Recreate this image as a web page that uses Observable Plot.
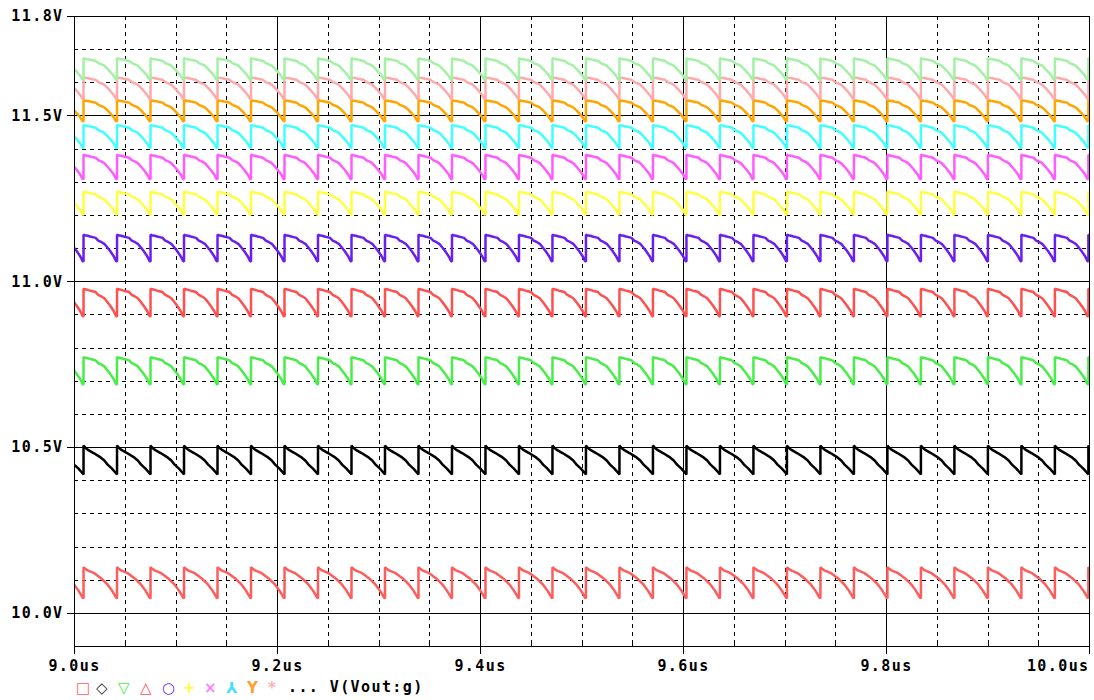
<!DOCTYPE html>
<html>
<head>
<meta charset="utf-8">
<script src="https://cdn.jsdelivr.net/npm/d3@7"></script>
<script src="https://cdn.jsdelivr.net/npm/@observablehq/plot@0.6"></script>
<style>
  html, body { margin: 0; padding: 0; background: #fff; }
  #chart svg text { letter-spacing: 1.4px; }
  #legend text { letter-spacing: 1.4px; }
</style>
</head>
<body>
<div id="chart"></div>
<div id="legend"></div>
<script>
// ---- data ----
const traceNames = ["t1","t2","t3","t4","t5","t6","t7","t8","t9","t10","t11"];
const traceColors = ["#ff5c5c","#000000","#48ee48","#ff5050","#6a1ff0","#ffff40","#ff5cff","#40ffff","#ffa500","#ffaaaa","#a4f0a4"];
const traceHigh = [10.139, 10.506, 10.773, 10.979, 11.142, 11.272, 11.383, 11.473, 11.548, 11.617, 11.674];
const traceLow  = [10.045, 10.419, 10.690, 10.895, 11.061, 11.202, 11.309, 11.403, 11.483, 11.550, 11.608];
const traceShape = [1, 2, 0, 0, 0, 0, 0, 0, 0, 0, 0];

// times (us) at which every trace jumps back up
const jumpTimes = [8.9759, 9.0089, 9.0419, 9.0749, 9.1079, 9.1409, 9.1739, 9.2069, 9.2399, 9.2729,
  9.3059, 9.3389, 9.3719, 9.4049, 9.4379, 9.4709, 9.5039, 9.5369, 9.5699, 9.6029, 9.6359,
  9.6689, 9.7019, 9.7349, 9.7679, 9.8009, 9.8339, 9.8669, 9.8999, 9.9329, 9.9659, 9.9989, 10.0319];

// one cycle's shape: [phase in cycle, fraction of drop from high to low]
const shapeUpper = [[0,0],[0.04,0.02],[0.12,0.04],[0.2,0.07],[0.3,0.1],[0.36,0.12],[0.44,0.22],[0.54,0.28],[0.62,0.34],[0.7,0.46],[0.8,0.62],[0.9,0.8],[0.97,0.98],[1,1]];
const shapeBottom = [[0,0],[0.04,0.04],[0.12,0.1],[0.3,0.18],[0.45,0.3],[0.55,0.38],[0.72,0.56],[0.85,0.75],[0.97,0.97],[1,1]];
const shapeBlack = [[0,0],[0.04,0.06],[0.12,0.14],[0.3,0.26],[0.52,0.42],[0.62,0.52],[0.72,0.66],[0.85,0.8],[0.97,0.96],[1,1]];
const shapes = [shapeUpper, shapeBottom, shapeBlack];

const xMajor = [9.0, 9.2, 9.4, 9.6, 9.8];
const xLast = [10.0];
const xMinor = [9.05,9.1,9.15,9.25,9.3,9.35,9.45,9.5,9.55,9.65,9.7,9.75,9.85,9.9,9.95];
const yLabeled = [11.8, 11.5, 11.0, 10.5, 10.0];
const ySolid = [11.5, 11.0, 10.5, 10.0];
const yDashed = [11.7,11.6,11.4,11.3,11.2,11.1,10.9,10.8,10.7,10.6,10.4,10.3,10.2,10.1];

const legendSymbols = ["□","◇","▽","△","○","+","×","⅄","Y","*"];
const legendColors = ["#ff5c5c","#333333","#40f040","#ff5050","#6a1ff0","#ffff40","#ff80ff","#40e0ff","#ffa030","#ffb0b0"];
const legendText = "... V(Vout:g)";

// ---- build series ----
function buildTrace(i) {
  const shape = shapes[traceShape[i]];
  const hi = traceHigh[i], lo = traceLow[i];
  const pts = [];
  for (let k = 0; k < jumpTimes.length - 1; k++) {
    const t0 = jumpTimes[k], t1 = jumpTimes[k + 1];
    for (const [p, f] of shape) pts.push({t: t0 + p * (t1 - t0), v: hi - f * (hi - lo)});
  }
  return pts;
}

const font = "DejaVu Sans Mono";
const dash = "4,4";
const crisp = {shapeRendering: "crispEdges"};

const marks = [
  Plot.gridY(yDashed, {stroke: "#000", strokeOpacity: 1, strokeDasharray: dash, ...crisp}),
  Plot.gridX(xMinor, {stroke: "#000", strokeOpacity: 1, strokeDasharray: dash, ...crisp}),
  Plot.gridY(ySolid, {stroke: "#000", strokeOpacity: 1, ...crisp}),
  Plot.gridX(xMajor, {stroke: "#000", strokeOpacity: 1, ...crisp}),
  ...traceNames.map((n, i) => Plot.line(buildTrace(i), {x: "t", y: "v", stroke: traceColors[i], strokeWidth: 2.5, strokeLinejoin: "miter", clip: true})),
  Plot.frame({stroke: "#000", ...crisp}),
  Plot.axisX(xMajor, {tickSize: 8, tickPadding: 6, tickFormat: d => d.toFixed(1) + "us", stroke: "#000", ...crisp}),
  Plot.axisX(xLast, {tickSize: 8, tickPadding: 6, tickFormat: d => d.toFixed(1) + "us", textAnchor: "end", stroke: "#000", ...crisp}),
  Plot.axisX(xMinor, {tickSize: 4, dy: -4, tickFormat: () => "", stroke: "#000", ...crisp}),
  Plot.axisY(yLabeled, {tickSize: 7, tickPadding: 4, tickFormat: d => d.toFixed(1) + "V", stroke: "#000", ...crisp})
];

const chart = Plot.plot({
  width: 1094,
  height: 676,
  marginTop: 16,
  marginBottom: 30,
  marginLeft: 74,
  marginRight: 5,
  x: {domain: [9.0, 10.0], label: null},
  y: {domain: [9.9, 11.8], label: null},
  style: {fontFamily: font, fontSize: "15px", fontWeight: "bold", color: "#000", background: "#fff"},
  marks
});
document.getElementById("chart").appendChild(chart);

// ---- legend below the chart ----
const lg = d3.select("#legend").append("svg").attr("width", 1094).attr("height", 24)
  .style("display", "block");
const symX = [76, 96, 118, 140, 162, 183, 204, 226, 247, 268];
lg.selectAll("text.sym").data(legendSymbols).join("text")
  .attr("class", "sym")
  .attr("x", (d, i) => symX[i])
  .attr("y", 17)
  .attr("fill", (d, i) => legendColors[i])
  .style("font-family", "DejaVu Sans")
  .style("font-size", "15px")
  .style("font-weight", "bold")
  .style("letter-spacing", "0px")
  .text(d => d);
lg.append("text").attr("x", 288).attr("y", 16)
  .style("font-family", font).style("font-size", "15px").style("font-weight", "bold")
  .attr("xml:space", "preserve")
  .text(legendText);
</script>
</body>
</html>
